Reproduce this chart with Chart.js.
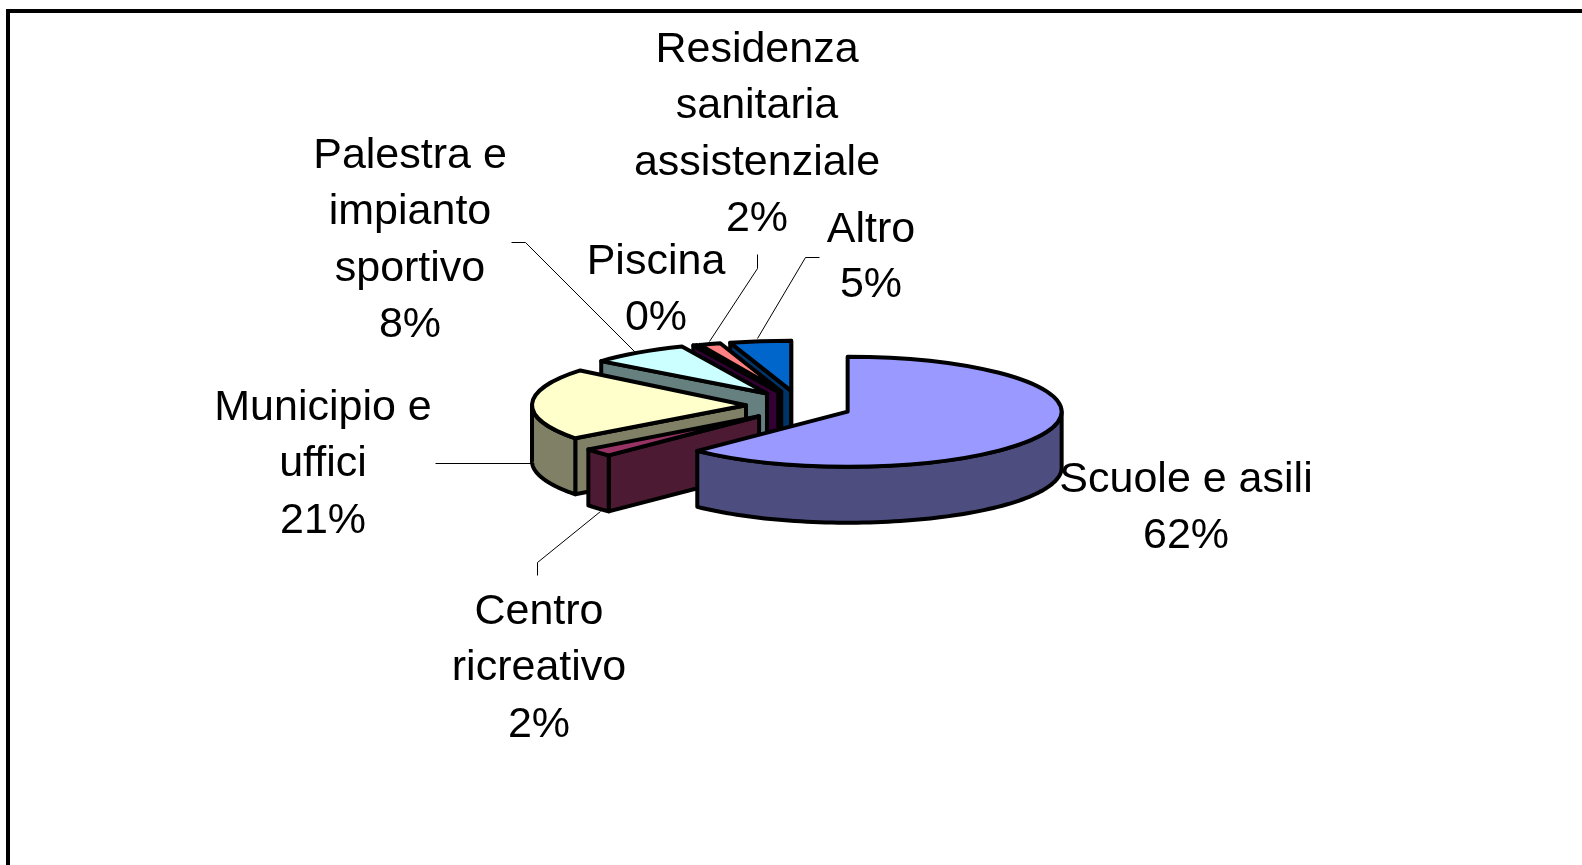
<!DOCTYPE html>
<html><head><meta charset="utf-8">
<style>
html,body{margin:0;padding:0;background:#fff;overflow:hidden;width:1582px;height:865px}
#frame{position:absolute;left:6px;top:9px;width:1600px;height:900px;border:4px solid #000}
canvas{position:absolute;left:0;top:0}
</style>
<script src="https://cdn.jsdelivr.net/npm/chart.js@4"></script>
</head><body>
<div id="frame"></div>
<canvas id="c" width="1582" height="865"></canvas>
<script>
const categories = ["Scuole e asili","Centro ricreativo","Municipio e uffici","Palestra e impianto sportivo","Piscina","Residenza sanitaria assistenziale","Altro"];
const values = [62.4, 2.3, 21.2, 7.6, 0.3, 1.6, 4.6];
const percentLabels = ["62%","2%","21%","8%","0%","2%","5%"];
const topColors = ["#9999FF","#993366","#FFFFCC","#CCFFFF","#660066","#FF8080","#0066CC"];
const sideColors = ["#4D4D80","#4D1A33","#808066","#668080","#330033","#804040","#003366"];

const TILT = 0.257, FAR_SHRINK = 0.09, EXPLODE = 52.8, EXPLODE_Y = 1.2, DEPTH = 56, OUTLINE = 4;
const FONT = '43px "Liberation Sans", Arial, sans-serif';
const LINE = 56.3;
const labelLayout = [
  {lines:["Scuole e asili"], x:1186, y:492},
  {lines:["Centro","ricreativo"], x:539, y:624},
  {lines:["Municipio e","uffici"], x:323, y:420},
  {lines:["Palestra e","impianto","sportivo"], x:410, y:168},
  {lines:["Piscina"], x:656, y:274},
  {lines:["Residenza","sanitaria","assistenziale"], x:757, y:62},
  {lines:["Altro"], x:871, y:242, line:55}
];
const leaders = [
  [[511,242],[525,242],[636,353]],
  [[757,254],[757,268],[709,341]],
  [[819,257],[805,257],[757,338]],
  [[435,463],[533,463]],
  [[537,575],[537,562],[600,511]]
];

function stroked(ctx, pts, fill){
  ctx.beginPath();
  pts.forEach((p,i)=> i ? ctx.lineTo(p[0],p[1]) : ctx.moveTo(p[0],p[1]));
  ctx.closePath();
  ctx.fillStyle = fill;
  ctx.fill();
  ctx.strokeStyle = '#000';
  ctx.lineWidth = OUTLINE;
  ctx.lineJoin = 'round';
  ctx.stroke();
}

const pie3d = {
  id:'pie3d',
  beforeDatasetDraw(chart){
    const ctx = chart.ctx;
    const arcs = chart.getDatasetMeta(0).data;
    for(let i=arcs.length-1;i>=0;i--){
      const el = arcs[i];
      const a0 = el.startAngle, a1 = el.endAngle, mid = (a0+a1)/2, R = el.outerRadius;
      const tilt = TILT*(1+FAR_SHRINK*Math.min(0,Math.sin(mid)));
      const ax = el.x + Math.cos(mid)*EXPLODE;
      const ay = el.y + Math.sin(mid)*EXPLODE*tilt*EXPLODE_Y;
      const pt = t => [ax + R*Math.cos(t), ay + R*tilt*Math.sin(t)];
      const inner = [ax + .5*R*Math.cos(mid), ay + .5*R*tilt*Math.sin(mid)];
      // radial faces that look towards the viewer
      [a0,a1].forEach(t=>{
        const p = pt(t);
        const cross = (p[0]-ax)*(inner[1]-ay) - (p[1]-ay)*(inner[0]-ax);
        const interiorAbove = p[0] >= ax ? cross < 0 : cross > 0;
        if(interiorAbove){
          stroked(ctx,[[ax,ay],p,[p[0],p[1]+DEPTH],[ax,ay+DEPTH]],sideColors[i]);
        }
      });
      // curved outer wall on the near half
      const f0 = Math.max(a0,0), f1 = Math.min(a1,Math.PI);
      if(f1 > f0){
        const pts = [];
        const n = 80;
        for(let s=0;s<=n;s++){ pts.push(pt(f0+(f1-f0)*s/n)); }
        for(let s=n;s>=0;s--){ const q = pt(f0+(f1-f0)*s/n); pts.push([q[0],q[1]+DEPTH]); }
        stroked(ctx,pts,sideColors[i]);
      }
      // top face: the library's arc element in a tilted frame
      ctx.save();
      ctx.translate(ax,ay);
      ctx.scale(1,tilt);
      ctx.translate(-el.x,-el.y);
      el.draw(ctx);
      ctx.beginPath();
      ctx.moveTo(el.x,el.y);
      ctx.arc(el.x,el.y,R,a0,a1);
      ctx.closePath();
      ctx.restore();
      ctx.strokeStyle='#000';
      ctx.lineWidth=OUTLINE;
      ctx.lineJoin='round';
      ctx.stroke();
    }
    return false;
  },
  afterDraw(chart){
    const ctx = chart.ctx;
    ctx.save();
    ctx.strokeStyle='#000';
    ctx.lineWidth=1;
    leaders.forEach(l=>{
      ctx.beginPath();
      l.forEach((p,i)=> i?ctx.lineTo(p[0]+.5,p[1]+.5):ctx.moveTo(p[0]+.5,p[1]+.5));
      ctx.stroke();
    });
    ctx.fillStyle='#000';
    ctx.font=FONT;
    ctx.textAlign='center';
    ctx.textBaseline='alphabetic';
    labelLayout.forEach((l,i)=>{
      l.lines.concat(percentLabels[i]).forEach((t,j)=> ctx.fillText(t,l.x,l.y+j*(l.line||LINE)));
    });
    ctx.restore();
  }
};

new Chart(document.getElementById('c').getContext('2d'),{
  type:'pie',
  data:{labels:categories,datasets:[{data:values,backgroundColor:topColors,borderWidth:0,radius:214}]},
  options:{
    responsive:false,
    animation:false,
    layout:{padding:{left:15.6,bottom:54,top:0,right:0}},
    plugins:{legend:{display:false},tooltip:{enabled:false}}
  },
  plugins:[pie3d]
});
</script>
</body></html>
